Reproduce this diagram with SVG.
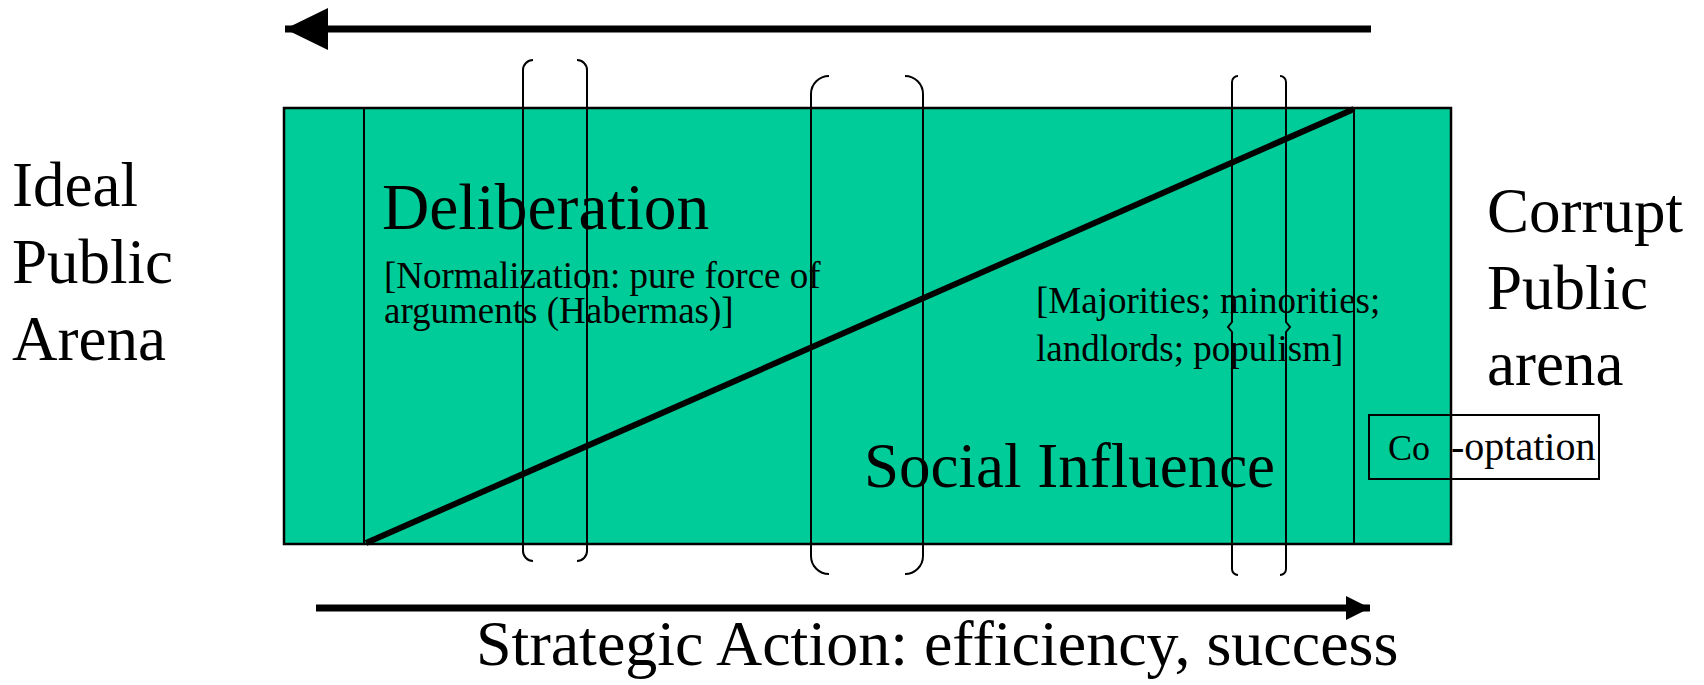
<svg xmlns="http://www.w3.org/2000/svg" width="1704" height="685" viewBox="0 0 1704 685">
<style>
  text { font-family: "Liberation Serif", "Times New Roman", serif; fill: #000; }
  .big { font-size: 63px; }
  .small { font-size: 37px; }
  .brace { fill: none; stroke: #000; stroke-width: 2; }
  .thin { stroke: #000; stroke-width: 2; fill: none; }
</style>
<defs>
  <marker id="headBig" markerUnits="userSpaceOnUse" markerWidth="44" markerHeight="44" refX="43" refY="21" orient="auto">
    <path d="M0,0 L43,21 L0,42 Z" fill="#000"/>
  </marker>
  <marker id="headSmall" markerUnits="userSpaceOnUse" markerWidth="26" markerHeight="26" refX="24" refY="12" orient="auto">
    <path d="M0,0 L24,12 L0,24 Z" fill="#000"/>
  </marker>
</defs>
<rect width="1704" height="685" fill="#fff"/>

<g id="arena">
  <rect x="284" y="108" width="1167" height="436" fill="#00CC99" stroke="#000" stroke-width="2.5"/>
  <line x1="364" y1="108" x2="364" y2="544" class="thin"/>
  <line x1="1354" y1="108" x2="1354" y2="544" class="thin"/>
</g>

<g id="cooptation">
  <rect x="1369" y="415" width="230" height="64" fill="none" stroke="#000" stroke-width="2"/>
  <text x="1388" y="460" font-size="36">Co</text>
  <text x="1451" y="460" font-size="40">-optation</text>
</g>

<g id="connectors">
  <line x1="1371" y1="29" x2="285" y2="29" stroke="#000" stroke-width="7" marker-end="url(#headBig)"/>
  <line x1="316" y1="608" x2="1370" y2="608" stroke="#000" stroke-width="7" marker-end="url(#headSmall)"/>
  <line x1="366" y1="543" x2="1354" y2="109" stroke="#000" stroke-width="6"/>
</g>

<g id="brace1">
  <path class="brace" d="M533,60 A10,10 0 0 0 523,70 L523,551 A10,10 0 0 0 533,561"/>
  <path class="brace" d="M577,60 A10,10 0 0 1 587,70 L587,551 A10,10 0 0 1 577,561"/>
</g>
<g id="brace2">
  <path class="brace" d="M829,76 A18,18 0 0 0 811,94 L811,556 A18,18 0 0 0 829,574"/>
  <path class="brace" d="M905,76 A18,18 0 0 1 923,94 L923,556 A18,18 0 0 1 905,574"/>
</g>
<g id="brace3">
  <path class="brace" d="M1238,76 A6,6 0 0 0 1232,82 L1232,322 L1228,327 L1232,332 L1232,569 A6,6 0 0 0 1238,575"/>
  <path class="brace" d="M1280,76 A6,6 0 0 1 1286,82 L1286,322 L1290,327 L1286,332 L1286,569 A6,6 0 0 1 1280,575"/>
</g>

<g id="ideal">
  <text class="big" x="12" y="206">Ideal</text>
  <text class="big" x="12" y="283">Public</text>
  <text class="big" x="12" y="360">Arena</text>
</g>
<g id="corrupt">
  <text class="big" x="1487" y="232">Corrupt</text>
  <text class="big" x="1487" y="309">Public</text>
  <text class="big" x="1487" y="385">arena</text>
</g>
<g id="deliberation">
  <text x="382" y="229" font-size="65.5">Deliberation</text>
  <text class="small" x="384" y="288">[Normalization: pure force of</text>
  <text class="small" x="384" y="323">arguments (Habermas)]</text>
</g>
<g id="majorities">
  <text class="small" x="1036" y="313">[Majorities; minorities;</text>
  <text class="small" x="1036" y="361">landlords; populism]</text>
</g>
<g id="social">
  <text x="864" y="487" font-size="63">Social Influence</text>
</g>
<g id="strategic">
  <text x="476" y="665" font-size="64">Strategic Action: efficiency, success</text>
</g>
</svg>
